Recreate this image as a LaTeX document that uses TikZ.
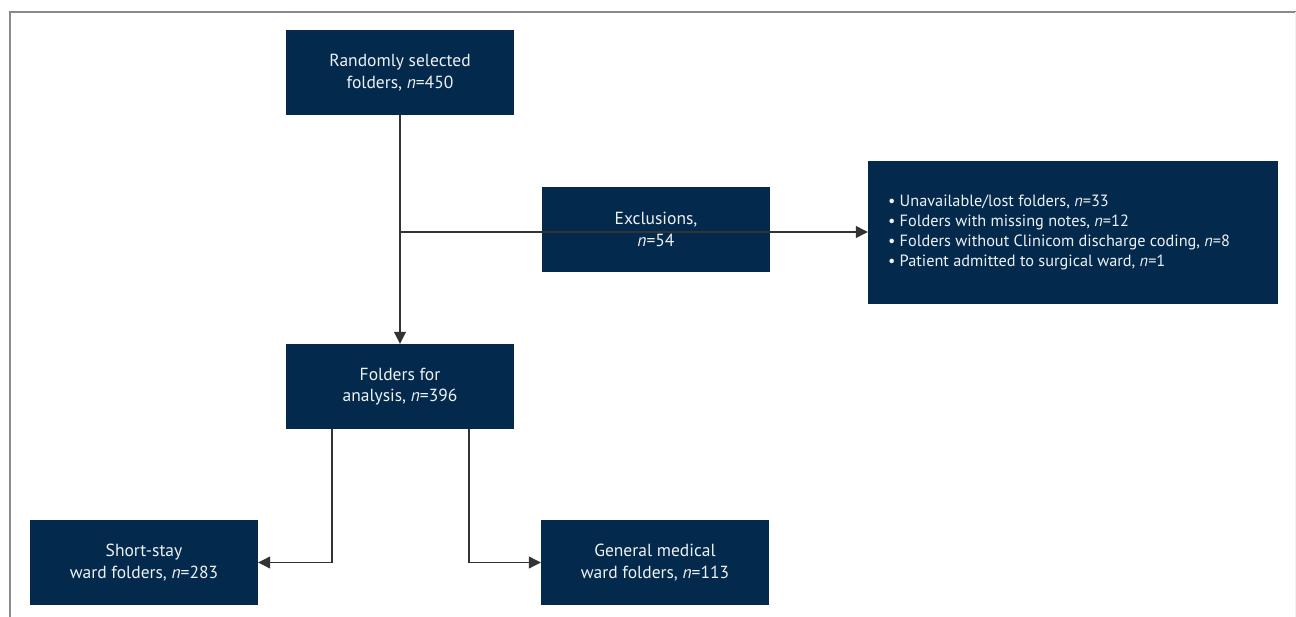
\documentclass[tikz,border=0pt]{standalone}
\usepackage{fontspec}
\setmainfont{PT Sans}
\usetikzlibrary{arrows.meta}
\definecolor{boxblue}{HTML}{032A4C}
\definecolor{boxtext}{HTML}{EEF1F4}
\definecolor{linegray}{HTML}{333333}
\definecolor{framegray}{HTML}{8A8A8A}
\tikzset{
  flowbox/.style={rectangle, fill=boxblue, text=boxtext, minimum width=228pt, minimum height=85pt, inner sep=0pt, align=center, font=\fontsize{17.5}{21.5}\selectfont},
  listbox/.style={rectangle, fill=boxblue, text=boxtext, minimum width=410pt, minimum height=143pt, inner sep=0pt, align=left, font=\fontsize{16.3}{20}\selectfont},
  conn/.style={draw=linegray, line width=1.1pt},
  arr/.style={conn, -{Triangle[length=12pt,width=12pt]}},
  frame/.style={draw=framegray, line width=1.4pt}
}
\begin{document}
\begin{tikzpicture}[x=1pt,y=-1pt]
\useasboundingbox (0,0) rectangle (1296,617);
\coordinate (ftl) at (10,12);
\coordinate (ftr) at (1296,12);
\coordinate (fbl) at (10,617);
\draw[frame] (fbl) -- (ftl) -- (ftr);
\coordinate (frt) at (1295,12);
\coordinate (frb) at (1295,617);
\draw[draw=black!6, line width=1pt] (frt) -- (frb);

\node[flowbox] (rand) at (400,72.5) {Randomly selected\\folders, \textit{n}=450};
\node[flowbox] (excl) at (656,229.5) {Exclusions,\\\textit{n}=54};
\node[listbox] (list) at (1073,232.5) {\parbox{370pt}{\raggedright
\textbullet\ Unavailable/lost folders, \textit{n}=33\\
\textbullet\ Folders with missing notes, \textit{n}=12\\
\textbullet\ Folders without Clinicom discharge coding, \textit{n}=8\\
\textbullet\ Patient admitted to surgical ward, \textit{n}=1}};
\node[flowbox] (anal) at (400,386.5) {Folders for\\analysis, \textit{n}=396};
\node[flowbox] (short) at (144,562.5) {Short-stay\\ward folders, \textit{n}=283};
\node[flowbox] (gen) at (655,562.5) {General medical\\ward folders, \textit{n}=113};

\coordinate (j) at (400,232);
\draw[arr] (rand.south) -- (anal.north);
\draw[arr] (j) -- (j -| list.west);
\coordinate (al) at (332,429);
\coordinate (ar) at (469,429);
\draw[arr] (al) |- (short.east);
\draw[arr] (ar) |- (gen.west);
\end{tikzpicture}
\end{document}
